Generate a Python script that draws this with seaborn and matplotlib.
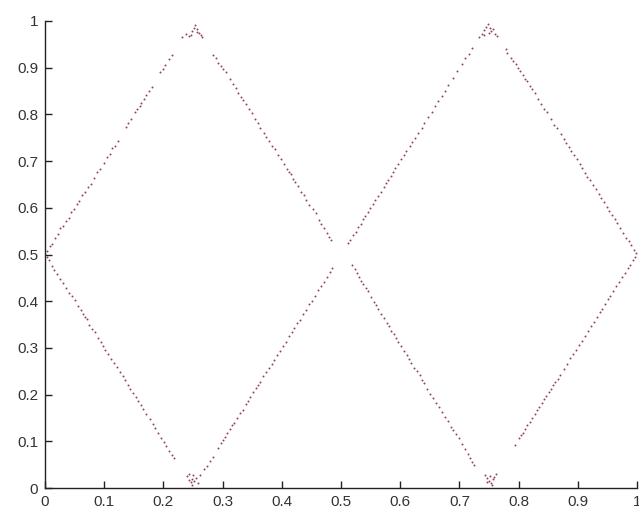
import numpy as np
import pandas as pd
import matplotlib
matplotlib.use("Agg")
import matplotlib.pyplot as plt
import seaborn as sns

# Left diamond, edge by edge (x, y pairs)
left_upper_left = [
    (0.003,0.507),(0.008,0.518),(0.012,0.522),(0.017,0.535),(0.022,0.543),(0.026,0.556),(0.031,0.561),
    (0.035,0.572),(0.040,0.579),(0.044,0.590),(0.049,0.597),(0.054,0.609),(0.058,0.614),(0.063,0.627),
    (0.068,0.634),(0.072,0.645),(0.077,0.652),(0.083,0.664),(0.088,0.676),(0.093,0.684),(0.100,0.697),
    (0.104,0.709),(0.109,0.716),(0.114,0.727),(0.118,0.733),(0.123,0.744),(0.137,0.772),(0.141,0.781),
    (0.146,0.790),(0.152,0.805),(0.156,0.811),(0.160,0.819),(0.163,0.824),(0.167,0.834),(0.171,0.842),
    (0.175,0.850),(0.180,0.858),(0.195,0.890),(0.199,0.898),(0.203,0.906),(0.209,0.918),(0.214,0.927),
]
left_top = [
    (0.232,0.965),(0.238,0.972),(0.243,0.968),(0.248,0.979),(0.251,0.986),(0.254,0.991),(0.257,0.983),
    (0.260,0.975),(0.263,0.970),(0.247,0.969),(0.256,0.977),(0.266,0.965),
]
left_upper_right = [
    (0.284,0.928),(0.289,0.920),(0.293,0.910),(0.297,0.904),(0.301,0.897),(0.306,0.890),(0.312,0.875),
    (0.318,0.865),(0.322,0.856),(0.326,0.846),(0.331,0.837),(0.335,0.830),(0.339,0.822),(0.344,0.811),
    (0.349,0.803),(0.354,0.790),(0.359,0.782),(0.364,0.771),(0.370,0.761),(0.374,0.751),(0.379,0.742),
    (0.384,0.732),(0.388,0.725),(0.393,0.713),(0.398,0.704),(0.403,0.694),(0.408,0.684),(0.412,0.677),
    (0.415,0.672),(0.419,0.661),(0.423,0.655),(0.427,0.646),(0.432,0.634),(0.437,0.627),(0.441,0.617),
    (0.446,0.607),(0.452,0.597),(0.457,0.588),(0.462,0.574),(0.467,0.565),(0.472,0.556),(0.476,0.546),
    (0.479,0.538),(0.483,0.530),
]
left_lower_left = [
    (0.003,0.494),(0.007,0.488),(0.011,0.476),(0.016,0.467),(0.020,0.459),(0.026,0.448),(0.031,0.440),
    (0.036,0.428),(0.041,0.418),(0.045,0.412),(0.050,0.402),(0.055,0.389),(0.060,0.381),(0.064,0.373),
    (0.068,0.366),(0.071,0.361),(0.075,0.350),(0.080,0.341),(0.085,0.333),(0.090,0.322),(0.094,0.313),
    (0.098,0.305),(0.102,0.296),(0.107,0.287),(0.112,0.276),(0.117,0.268),(0.121,0.259),(0.126,0.248),
    (0.131,0.240),(0.135,0.231),(0.140,0.220),(0.144,0.213),(0.149,0.203),(0.153,0.194),(0.157,0.187),
    (0.162,0.177),(0.166,0.170),(0.171,0.159),(0.177,0.147),(0.182,0.138),(0.186,0.128),(0.191,0.118),
    (0.196,0.108),(0.201,0.099),(0.205,0.090),(0.210,0.080),(0.214,0.071),(0.218,0.064),
]
left_bottom = [
    (0.240,0.025),(0.243,0.018),(0.246,0.012),(0.249,0.006),(0.252,0.015),(0.255,0.022),(0.258,0.011),
    (0.244,0.030),(0.250,0.027),(0.262,0.028),(0.248,0.020),
]
left_lower_right = [
    (0.268,0.040),(0.273,0.048),(0.278,0.057),(0.283,0.066),(0.292,0.085),(0.297,0.096),(0.300,0.102),
    (0.304,0.110),(0.308,0.118),(0.312,0.127),(0.316,0.134),(0.320,0.140),(0.324,0.150),(0.329,0.160),
    (0.334,0.168),(0.339,0.180),(0.343,0.187),(0.347,0.195),(0.352,0.206),(0.356,0.214),(0.360,0.221),
    (0.364,0.228),(0.369,0.239),(0.374,0.249),(0.378,0.257),(0.383,0.265),(0.387,0.275),(0.392,0.284),
    (0.397,0.294),(0.402,0.305),(0.407,0.313),(0.412,0.326),(0.417,0.335),(0.421,0.342),(0.426,0.353),
    (0.431,0.360),(0.436,0.372),(0.441,0.382),(0.446,0.393),(0.451,0.401),(0.456,0.412),(0.461,0.423),
    (0.466,0.433),(0.471,0.442),(0.476,0.452),(0.481,0.463),(0.485,0.471),
]

# Right diamond
right_upper_left = [
    (0.512,0.524),(0.516,0.530),(0.520,0.541),(0.525,0.549),(0.529,0.558),(0.533,0.566),(0.537,0.575),
    (0.541,0.583),(0.545,0.590),(0.549,0.600),(0.554,0.608),(0.558,0.617),(0.562,0.625),(0.567,0.634),
    (0.572,0.645),(0.576,0.653),(0.580,0.660),(0.584,0.669),(0.588,0.676),(0.592,0.686),(0.597,0.694),
    (0.602,0.705),(0.606,0.713),(0.610,0.722),(0.616,0.733),(0.620,0.741),(0.625,0.749),(0.630,0.761),
    (0.636,0.771),(0.641,0.782),(0.647,0.794),(0.653,0.806),(0.659,0.817),(0.664,0.828),(0.670,0.840),
    (0.676,0.851),(0.681,0.862),(0.690,0.879),(0.696,0.892),(0.704,0.908),(0.710,0.921),(0.716,0.930),
    (0.721,0.942),
]
right_top = [
    (0.733,0.965),(0.738,0.972),(0.742,0.980),(0.745,0.987),(0.748,0.993),(0.751,0.985),(0.754,0.978),
    (0.757,0.983),(0.760,0.973),(0.741,0.970),(0.750,0.975),(0.763,0.968),
]
right_upper_right = [
    (0.779,0.940),(0.781,0.932),(0.787,0.921),(0.791,0.914),(0.795,0.907),(0.799,0.899),(0.803,0.892),
    (0.807,0.884),(0.811,0.876),(0.815,0.871),(0.819,0.861),(0.823,0.855),(0.827,0.845),(0.833,0.832),
    (0.838,0.823),(0.843,0.812),(0.848,0.805),(0.854,0.791),(0.860,0.778),(0.865,0.770),(0.871,0.758),
    (0.876,0.748),(0.880,0.739),(0.885,0.730),(0.889,0.721),(0.894,0.713),(0.898,0.704),(0.903,0.693),
    (0.907,0.686),(0.912,0.675),(0.916,0.667),(0.921,0.659),(0.926,0.648),(0.930,0.640),(0.935,0.630),
    (0.940,0.620),(0.944,0.612),(0.949,0.602),(0.953,0.594),(0.957,0.585),(0.962,0.577),(0.967,0.567),
    (0.972,0.556),(0.977,0.547),(0.982,0.535),(0.986,0.528),(0.990,0.520),(0.995,0.510),(0.998,0.503),
]
right_lower_left = [
    (0.519,0.477),(0.523,0.468),(0.527,0.460),(0.531,0.452),(0.534,0.444),(0.538,0.437),(0.542,0.429),
    (0.546,0.421),(0.550,0.410),(0.555,0.399),(0.559,0.392),(0.563,0.383),(0.568,0.373),(0.572,0.364),
    (0.577,0.353),(0.581,0.346),(0.585,0.337),(0.589,0.330),(0.593,0.322),(0.597,0.313),(0.602,0.303),
    (0.606,0.294),(0.611,0.285),(0.615,0.276),(0.619,0.268),(0.624,0.258),(0.628,0.250),(0.633,0.241),
    (0.637,0.232),(0.641,0.224),(0.646,0.213),(0.651,0.202),(0.656,0.193),(0.661,0.183),(0.666,0.174),
    (0.671,0.163),(0.676,0.152),(0.681,0.143),(0.686,0.131),(0.690,0.124),(0.694,0.116),(0.699,0.106),
    (0.705,0.094),(0.710,0.084),(0.715,0.072),(0.718,0.064),(0.722,0.055),(0.724,0.050),
]
right_bottom = [
    (0.744,0.028),(0.747,0.021),(0.750,0.015),(0.753,0.010),(0.756,0.019),(0.759,0.024),(0.746,0.012),
    (0.752,0.026),(0.762,0.030),(0.755,0.006),
]
right_lower_right = [
    (0.794,0.092),(0.800,0.107),(0.804,0.113),(0.807,0.118),(0.811,0.126),(0.815,0.134),(0.819,0.142),
    (0.823,0.150),(0.827,0.158),(0.831,0.167),(0.835,0.174),(0.839,0.183),(0.843,0.191),(0.847,0.198),
    (0.851,0.206),(0.855,0.213),(0.858,0.221),(0.862,0.227),(0.866,0.234),(0.870,0.241),(0.876,0.254),
    (0.882,0.265),(0.887,0.278),(0.892,0.287),(0.897,0.296),(0.902,0.306),(0.907,0.315),(0.912,0.326),
    (0.917,0.336),(0.922,0.346),(0.927,0.356),(0.932,0.366),(0.937,0.376),(0.941,0.384),(0.946,0.394),
    (0.951,0.404),(0.955,0.412),(0.960,0.421),(0.965,0.432),(0.970,0.441),(0.975,0.452),(0.980,0.461),
    (0.985,0.471),(0.989,0.478),(0.993,0.488),(0.997,0.495),
]

tick_values = [0, 0.1, 0.2, 0.3, 0.4, 0.5, 0.6, 0.7, 0.8, 0.9, 1]
tick_labels = ["0", "0.1", "0.2", "0.3", "0.4", "0.5", "0.6", "0.7", "0.8", "0.9", "1"]

segments = [left_upper_left, left_top, left_upper_right, left_lower_left, left_bottom,
            left_lower_right, right_upper_left, right_top, right_upper_right,
            right_lower_left, right_bottom, right_lower_right]
pts = [p for seg in segments for p in seg]
df = pd.DataFrame(pts, columns=["x", "y"])

sns.set_style("ticks")
plt.rcParams["font.family"] = ["Liberation Sans", "DejaVu Sans"]
plt.rcParams["xtick.direction"] = "in"
plt.rcParams["ytick.direction"] = "in"

fig = plt.figure(figsize=(6.39, 5.13), dpi=100)
ax = fig.add_axes([45 / 639, 25 / 513, 592 / 639, 467 / 513])

sns.scatterplot(data=df, x="x", y="y", ax=ax, s=2, color="#7d2434",
                linewidth=0, marker="o", alpha=0.85, legend=False)

ax.set_xlim(0, 1)
ax.set_ylim(0, 1)
ax.set_xticks(tick_values)
ax.set_xticklabels(tick_labels)
ax.set_yticks(tick_values)
ax.set_yticklabels(tick_labels)
ax.set_xlabel("")
ax.set_ylabel("")
for side in ("top", "right"):
    ax.spines[side].set_visible(False)
for side in ("left", "bottom"):
    ax.spines[side].set_color("#222222")
    ax.spines[side].set_linewidth(1.0)
ax.tick_params(axis="both", length=5, width=1.0, color="#222222",
               labelsize=11, labelcolor="#333333", pad=5)

fig.savefig("out.png", dpi=100)
